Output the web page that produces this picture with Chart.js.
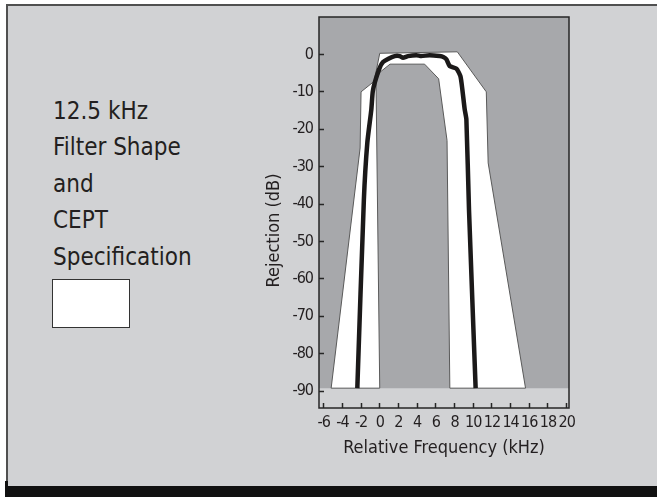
<!DOCTYPE html>
<html>
<head>
<meta charset="utf-8">
<script src="https://cdn.jsdelivr.net/npm/chart.js@4.4.0/dist/chart.umd.min.js"></script>
<style>
  body { margin: 0; background: #ffffff; }
  #frame { position: absolute; left: 6px; top: 4px; width: 700px; height: 482px;
           background: #d1d2d4; border-top: 2px solid #505050; border-left: 2px solid #505050; box-sizing: border-box; }
  #bar { position: absolute; left: 5px; top: 486px; width: 700px; height: 11px; background: #111; }
  #step { position: absolute; left: 5px; top: 481px; width: 3px; height: 6px; background: #111; }
  #caption { position: absolute; left: 53px; top: 93px; font-family: 'DejaVu Sans Condensed', sans-serif;
             font-size: 24px; line-height: 36.4px; color: #231f20; }
  #swatch { position: absolute; left: 52px; top: 279px; width: 78px; height: 49px; background: #fff;
            border: 1.5px solid #333; box-sizing: border-box; }
  #wrap { position: absolute; left: 0; top: 0; width: 657px; height: 497px; }
</style>
</head>
<body>
<div id="frame"></div>
<div id="step"></div>
<div id="bar"></div>
<div id="caption">12.5 kHz<br>Filter Shape<br>and<br>CEPT<br>Specification</div>
<div id="swatch"></div>
<div id="wrap"><canvas id="filter_chart"></canvas></div>
<script>
// axis ranges and tick labels
const xMin = -6.5;
const xMax = 20.25;
const yMin = -94.5;
const yMax = 10;
const xTicks = [-6, -4, -2, 0, 2, 4, 6, 8, 10, 12, 14, 16, 18, 20];
const yTicks = [-90, -80, -70, -60, -50, -40, -30, -20, -10, 0];
// level where the dark plot background stops
const floorDb = -89.2;

// CEPT mask, walked round the outline (outer edge, then inner edge back)
const maskFreq = [-5.2, -2.1, -2.0, -0.6, 0.0, 8.3, 11.4, 11.6, 15.6, 7.5, 7.2, 6.3, 4.8, 1.1, 0.0, -0.4, 0.0, -5.2];
const maskDb = [-89.2, -25, -10, -7.2, 0.3, 0.7, -10, -29, -89.2, -89.2, -23, -6.5, -2.6, -2.6, -4.8, -7, -89.2, -89.2];

// measured filter shape
const filterFreq = [-2.4, -1.7, -1.33, -0.9, -0.75, -0.54, -0.01, 0.35, 0.88, 1.6, 2.13, 2.49, 3.02, 3.92, 4.45, 5.34, 6.41, 6.8, 7.13, 7.48, 8.2, 8.63, 8.84, 9.09, 9.27, 9.55, 10.26];
const filterDb = [-89.2, -38.9, -23.6, -14.7, -10, -7.6, -3.6, -2.05, -1.2, -0.45, -0.45, -0.9, -0.45, -0.2, -0.45, -0.2, -0.45, -0.7, -1.3, -3.1, -3.8, -5.8, -9.4, -14.7, -17.4, -41.5, -89.2];

const toPoints = (xs, ys) => xs.map((x, i) => ({ x: x, y: ys[i] }));

const fontFamily = "'DejaVu Sans Condensed', sans-serif";

// tick numbers are set tight, like the condensed face of the original
const tightTicks = {
  id: 'tightTicks',
  beforeDraw(chart) { chart.ctx.letterSpacing = '-1px'; },
  beforeDatasetsDraw(chart) { chart.ctx.letterSpacing = '0px'; }
};

// frame round the plot area and the rotated y title
const boxPlugin = {
  id: 'box',
  afterDraw(chart) {
    const a = chart.chartArea;
    const ctx = chart.ctx;
    ctx.save();
    ctx.strokeStyle = '#262626';
    ctx.lineWidth = 1.5;
    ctx.strokeRect(a.left, a.top, a.right - a.left, a.bottom - a.top);
    ctx.translate(a.left - 45, (a.top + a.bottom) / 2 + 18);
    ctx.rotate(-Math.PI / 2);
    ctx.fillStyle = '#231f20';
    ctx.font = '18px ' + fontFamily;
    ctx.textAlign = 'center';
    ctx.textBaseline = 'middle';
    ctx.fillText('Rejection (dB)', 0, 0);
    ctx.restore();
  }
};

const tickFont = { family: fontFamily, size: 16 };
const titleFont = { family: fontFamily, size: 18 };

const ctx1 = document.getElementById('filter_chart').getContext('2d');
const chart1 = new Chart(ctx1, {
  type: 'scatter',
  data: {
    datasets: [
      {
        label: 'Filter shape',
        data: toPoints(filterFreq, filterDb),
        showLine: true,
        borderColor: '#1b1919',
        borderWidth: 4.5,
        borderJoinStyle: 'round',
        tension: 0.2,
        pointRadius: 0,
        fill: false,
        order: 0
      },
      {
        label: 'CEPT specification',
        data: toPoints(maskFreq, maskDb),
        showLine: true,
        borderColor: '#5a5a5a',
        borderWidth: 1,
        backgroundColor: '#ffffff',
        pointRadius: 0,
        fill: 'shape',
        order: 1
      },
      {
        label: 'floor',
        data: toPoints([xMin, xMax], [floorDb, floorDb]),
        showLine: true,
        borderWidth: 0,
        borderColor: 'rgba(0,0,0,0)',
        backgroundColor: '#a7a8ab',
        pointRadius: 0,
        fill: 'end',
        order: 2
      }
    ]
  },
  options: {
    responsive: true,
    maintainAspectRatio: false,
    animation: false,
    layout: { padding: { left: 259, right: 88, top: 17, bottom: 31 } },
    plugins: {
      legend: { display: false },
      tooltip: { enabled: false }
    },
    scales: {
      x: {
        type: 'linear',
        min: xMin,
        max: xMax,
        afterBuildTicks: (axis) => { axis.ticks = xTicks.map(v => ({ value: v })); },
        afterFit: (axis) => { axis.height = 58; axis.paddingLeft = 0; axis.paddingRight = 0; },
        border: { display: false },
        grid: { drawOnChartArea: false, tickLength: -5, tickWidth: 1.5, tickColor: '#262626', z: 1 },
        ticks: { autoSkip: false, maxRotation: 0, padding: 10, color: '#231f20', font: tickFont },
        title: { display: true, text: 'Relative Frequency (kHz)', color: '#231f20', font: titleFont, padding: { top: 0, bottom: 7 } }
      },
      y: {
        type: 'linear',
        min: yMin,
        max: yMax,
        afterBuildTicks: (axis) => { axis.ticks = yTicks.map(v => ({ value: v })); },
        afterFit: (axis) => { axis.width = 60; axis.paddingTop = 0; axis.paddingBottom = 0; },
        border: { display: false },
        grid: { drawOnChartArea: false, tickLength: -5, tickWidth: 1.5, tickColor: '#262626', z: 1 },
        ticks: { autoSkip: false, padding: 11, color: '#231f20', font: tickFont }
      }
    }
  },
  plugins: [tightTicks, boxPlugin]
});
</script>
</body>
</html>
